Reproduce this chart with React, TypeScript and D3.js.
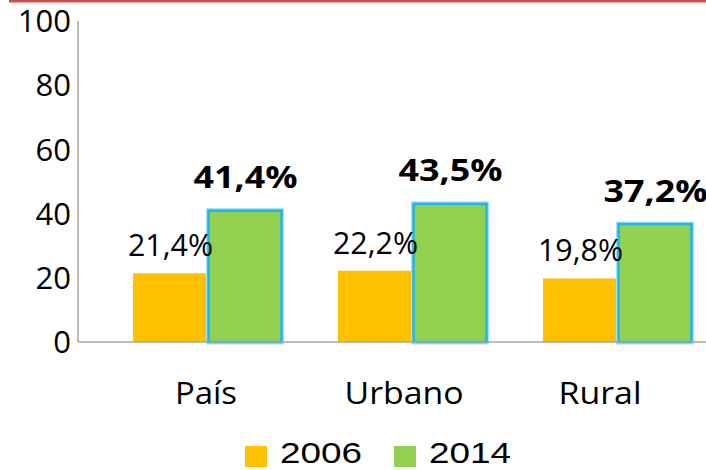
import React from "react";
import * as d3 from "d3";

const categories = ["País", "Urbano", "Rural"];
const series = ["2006", "2014"];
const values2006 = [21.4, 22.2, 19.8];
const values2014 = [41.4, 43.5, 37.2];
const labels2006 = ["21,4%", "22,2%", "19,8%"];
const labels2014 = ["41,4%", "43,5%", "37,2%"];
const yTicks = [0, 20, 40, 60, 80, 100];
const colors = ["#FFC000", "#92D050"];

const W = 706;
const H = 470;
const FONT = "'Open Sans', sans-serif";

export default function App() {
  const y = d3.scaleLinear().domain([0, 100]).range([342, 21]);
  const x = d3
    .scaleBand<string>()
    .domain(categories)
    .range([105.5, 720.5])
    .paddingInner(0.268)
    .paddingOuter(0.134);
  const xs = d3.scaleBand<string>().domain(series).range([0, x.bandwidth()]);
  const axisX = 78;
  const labelShift = [-2, -9, -18];
  const catWidths = [62, 119, 83];

  return (
    <svg
      width={W}
      height={H}
      style={{ position: "absolute", left: 0, top: 0, background: "#fff" }}
      fontFamily={FONT}
    >
      <rect x={0} y={0} width={W} height={H} fill="#fff" />
      <line x1={9} x2={W} y1={1} y2={1} stroke="#C9504F" strokeWidth={3} />
      {/* y axis */}
      <line x1={axisX} x2={axisX} y1={y(100)} y2={y(0)} stroke="#A6A6A6" strokeWidth={1.5} />
      {yTicks.map((t) => (
        <text
          key={t}
          x={71}
          y={y(t)}
          dy="0.36em"
          textAnchor="end"
          fontSize={31}
          fill="#000"
        >
          {t}
        </text>
      ))}
      {/* bars */}
      {categories.map((c, i) => {
        const x0 = x(c)!;
        const b = xs.bandwidth();
        const v1 = values2006[i];
        const v2 = values2014[i];
        const gx = x0 + xs("2014")!;
        return (
          <g key={c}>
            <rect
              x={x0 + xs("2006")!}
              y={y(v1)}
              width={b}
              height={y(0) - y(v1)}
              fill={colors[0]}
            />
            <rect
              x={gx + 0.5}
              y={y(v2) + 1.5}
              width={b - 2}
              height={y(0) - y(v2) - 1.5}
              fill={colors[1]}
              stroke="#A8E2F8"
              strokeWidth={5}
            />
            <rect
              x={gx + 0.5}
              y={y(v2) + 1.5}
              width={b - 2}
              height={y(0) - y(v2) - 1.5}
              fill={colors[1]}
              stroke="#1EB4EC"
              strokeWidth={2.5}
            />
            <text
              x={x0 + xs("2006")! + b / 2}
              y={y(v1) - 17}
              textAnchor="middle"
              fontSize={31}
              fill="#000"
              textLength={85}
              lengthAdjust="spacingAndGlyphs"
            >
              {labels2006[i]}
            </text>
            <text
              x={gx + b / 2}
              y={y(v2) - 21}
              textAnchor="middle"
              fontSize={31}
              fontWeight="bold"
              fill="#000"
              textLength={104}
              lengthAdjust="spacingAndGlyphs"
            >
              {labels2014[i]}
            </text>
            <text
              x={x0 + x.bandwidth() / 2 + labelShift[i]}
              y={404}
              textAnchor="middle"
              fontSize={31}
              fill="#000"
              textLength={catWidths[i]}
              lengthAdjust="spacingAndGlyphs"
            >
              {c}
            </text>
          </g>
        );
      })}
      {/* baseline */}
      <line x1={axisX} x2={W} y1={y(0)} y2={y(0)} stroke="#A6A6A6" strokeWidth={1.5} />
      {/* legend */}
      {series.map((s, i) => {
        const lx = [245, 394][i];
        return (
          <g key={s}>
            <rect x={lx} y={446} width={22} height={21} fill={colors[i]} />
            <text
              x={lx + 35}
              y={463}
              fontSize={30}
              fontFamily="'Liberation Sans', sans-serif"
              fill="#000"
              textLength={82}
              lengthAdjust="spacingAndGlyphs"
            >
              {s}
            </text>
          </g>
        );
      })}
    </svg>
  );
}
